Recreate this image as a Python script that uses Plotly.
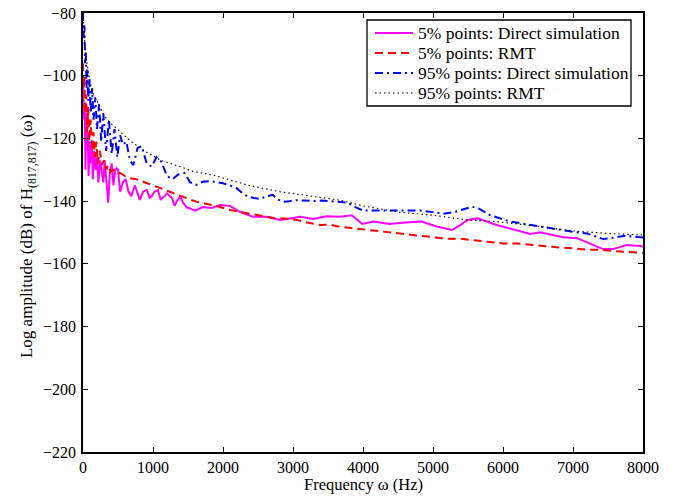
import plotly.graph_objects as go

# ---- data ----
f_mag = [0, 8, 16, 25, 35, 45, 55, 65, 80, 95, 110, 125, 140, 160, 180, 200, 220, 245, 270, 290,
         310, 335, 360, 385, 410, 435, 460, 480, 500, 530, 570, 610, 650, 690, 740, 780, 810, 860,
         910, 950, 980, 1020, 1070, 1110, 1140, 1200, 1270, 1310, 1340, 1390, 1430, 1480, 1530,
         1600, 1710, 1840, 1960, 2100, 2240, 2430, 2620, 2810, 2960, 3100, 3290, 3480, 3670, 3840,
         3990, 4150, 4380, 4600, 4840, 5050, 5270, 5400, 5490, 5640, 5910, 6150, 6390, 6530, 6700,
         6860, 7060, 7250, 7430, 7570, 7770, 7960, 8000]
v_mag = [-100, -108, -114, -110, -130, -112, -124, -118, -132, -121, -128, -122, -133, -124, -130,
         -126, -134, -127, -132, -134, -127, -133, -140.5, -131, -128, -135, -130, -129.5, -130,
         -137, -134, -133, -137, -138.4, -135, -137.5, -139.6, -137, -136.4, -138.9, -138.5, -137,
         -136.5, -139.6, -139, -137.5, -139, -141.5, -140, -138.6, -140.5, -142, -142.3, -143,
         -141.9, -142.2, -141.2, -141.5, -143.4, -145, -145, -146, -145.5, -145, -145.7, -144.8,
         -145, -144.5, -147.3, -146.5, -147.3, -146.8, -146.5, -148.1, -149.2, -147.5, -146,
         -145.5, -147.6, -149, -150.5, -149.9, -150.8, -151.5, -151.8, -153.5, -155.3, -155.3,
         -154, -154.3, -154.5]

f_red = [0, 10, 20, 30, 45, 60, 75, 90, 110, 130, 150, 170, 190, 210, 240, 270, 300, 330, 360,
         390, 430, 470, 530, 600, 670, 760, 860, 950, 1050, 1140, 1240, 1330, 1430, 1520, 1620,
         1770, 1900, 2100, 2250, 2430, 2580, 2710, 2880, 3050, 3200, 3390, 3530, 3630, 3800, 4000,
         4200, 4400, 4600, 4800, 5000, 5200, 5400, 5600, 5800, 6000, 6200, 6400, 6600, 6800, 7000,
         7200, 7400, 7600, 7800, 8000]
v_red = [-96, -104, -100, -112, -106, -118, -110, -121, -114, -124, -118, -126, -121, -128, -124,
         -128.4, -127, -130, -128.5, -130.6, -130, -131, -131, -132, -132.7, -133, -133.8, -134.5,
         -135.4, -136, -137, -137.8, -138.6, -139.3, -140.2, -140.9, -141.5, -142.8, -143.5,
         -144.2, -144.8, -145.3, -145.5, -146, -146.8, -147.6, -147.5, -148, -148.5, -149, -149.5,
         -150, -150.3, -151, -151.5, -152, -152, -152.5, -153, -153.5, -153.5, -154, -154.5,
         -154.8, -155, -155.5, -155.5, -156, -156.2, -156.5]

f_blue = [0, 10, 20, 30, 40, 50, 60, 75, 90, 110, 130, 150, 175, 200, 230, 260, 290, 330, 370,
          410, 450, 490, 530, 570, 620, 670, 720, 780, 840, 910, 980, 1050, 1120, 1200, 1280, 1360,
          1450, 1530, 1620, 1710, 1810, 1900, 2000, 2100, 2190, 2280, 2360, 2440, 2530, 2620, 2710,
          2790, 2860, 2950, 3050, 3170, 3290, 3410, 3530, 3650, 3780, 3900, 4000, 4200, 4400, 4600,
          4820, 5000, 5150, 5300, 5400, 5490, 5560, 5650, 5820, 6100, 6300, 6490, 6650, 6810, 7000,
          7200, 7430, 7600, 7720, 7850, 8000]
v_blue = [-80, -88, -84, -96, -92, -104, -98, -108, -101, -112, -104, -114, -107, -117, -109,
          -121, -112, -124, -114, -125, -117, -126, -119, -122, -121, -127, -128.5, -123, -122.5,
          -128, -129, -126, -127.5, -132, -133, -131.5, -131, -134, -134.8, -133.8, -133.6, -134,
          -134.3, -135, -135.8, -137.5, -138.6, -139, -139.3, -138.5, -138, -139.5, -140.2, -140,
          -139.7, -139.8, -140, -139.8, -140, -140.3, -140.5, -142, -143, -143, -143, -143.2, -143,
          -143.5, -144, -143.5, -142.8, -142.3, -141.8, -142.3, -144.5, -146.5, -147.2, -147.9,
          -148.5, -149.2, -149.8, -150.3, -152.1, -151.6, -151.1, -151.3, -151.6]

f_blk = [0, 15, 30, 50, 75, 100, 130, 160, 210, 260, 310, 390, 500, 690, 880, 1110, 1390, 1570,
         1860, 2340, 2810, 3290, 3670, 4000, 4500, 5000, 5500, 5900, 6500, 7000, 7500, 8000]
v_blk = [-80, -86, -91, -95, -99, -102, -104.5, -106.5, -108.5, -111, -113, -115.1, -117.3,
         -121, -124, -127, -129, -130.5, -131.7, -134.8, -137, -138.6, -139.7, -141.5, -143.5,
         -144.5, -146, -146.5, -148, -149.5, -150.3, -150.8]

names = ["5% points: Direct simulation", "5% points: RMT",
         "95% points: Direct simulation", "95% points: RMT"]
x_ticks = [0, 1000, 2000, 3000, 4000, 5000, 6000, 7000, 8000]
y_ticks = [-220, -200, -180, -160, -140, -120, -100, -80]

FONT = "Liberation Serif, Times New Roman, serif"

styles = [dict(color="#FF00FF", width=2.0, dash="solid"),
          dict(color="#FF0000", width=2.0, dash="8px,5px"),
          dict(color="#0000FF", width=2.0, dash="8px,4px,2px,4px"),
          dict(color="#000000", width=1.1, dash="1.5px,3px")]

fig = go.Figure()
for (fx, vy), nm, st in zip([(f_mag, v_mag), (f_red, v_red), (f_blue, v_blue), (f_blk, v_blk)],
                            names, styles):
    fig.add_trace(go.Scatter(x=fx, y=vy, mode="lines", name=nm, line=st, showlegend=False))

axis_common = dict(showline=True, linecolor="black", linewidth=1.5, mirror="allticks",
                   ticks="inside", ticklen=5, tickwidth=1, tickcolor="black",
                   showgrid=False, zeroline=False, automargin=False,
                   ticklabeloverflow="allow",
                   tickfont=dict(family=FONT, size=16, color="black"))

fig.update_xaxes(range=[0, 8000], tickvals=x_ticks, ticklabelstandoff=0, **axis_common)
fig.update_yaxes(range=[-220, -80], tickvals=y_ticks, ticklabelstandoff=2, **axis_common)

# axis titles
fig.add_annotation(text="Frequency ω (Hz)", xref="paper", yref="paper", x=0.5, y=-0.074,
                   xanchor="center", yanchor="middle", showarrow=False,
                   font=dict(family=FONT, size=16.5, color="black"))
fig.add_annotation(text="Log amplitude (dB) of H<sub>(817,817)</sub> (ω)", xref="paper",
                   yref="paper", x=-0.098, y=0.49, textangle=-90, xanchor="center",
                   yanchor="middle", showarrow=False,
                   font=dict(family=FONT, size=17, color="black"))

# legend box (drawn manually to match the reference layout)
PX0, PW, PY0, PH = 83, 560, 13, 439
def px(x):
    return (x - PX0) / PW
def py(y):
    return 1 - (y - PY0) / PH

fig.add_shape(type="rect", xref="paper", yref="paper", x0=px(367), x1=px(631),
              y0=py(106), y1=py(20), line=dict(color="black", width=1.3), fillcolor="white",
              layer="above")
rows = [33, 53, 73, 93]
for r, nm, st in zip(rows, names, styles):
    fig.add_shape(type="line", xref="paper", yref="paper", x0=px(375), x1=px(413),
                  y0=py(r), y1=py(r), line=st, layer="above")
    fig.add_annotation(text=nm, xref="paper", yref="paper", x=px(416), y=py(r),
                       xanchor="left", yanchor="middle", showarrow=False,
                       font=dict(family=FONT, size=17.5, color="black"))

fig.update_layout(
    width=676, height=497,
    margin=dict(l=83, r=33, t=13, b=45),
    paper_bgcolor="white", plot_bgcolor="white",
    showlegend=False,
)

fig.write_html("out.html", config={"displayModeBar": False},
               post_script="document.body.style.margin='0';document.body.style.overflow='hidden';")
